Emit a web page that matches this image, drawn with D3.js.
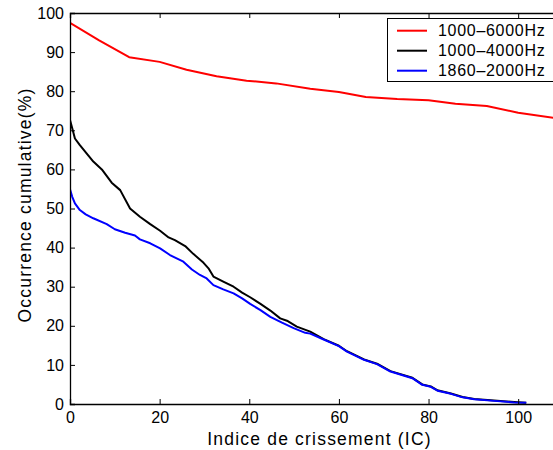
<!DOCTYPE html>
<html><head><meta charset="utf-8">
<script src="https://cdn.jsdelivr.net/npm/d3@7"></script>
<style>body{margin:0;background:#fff}svg{display:block}text{font-family:"Liberation Sans",Arial,sans-serif;fill:#000}</style>
</head><body><svg id="c" width="553" height="450"></svg>
<script>
const seriesNames = ["1000\u20136000Hz","1000\u20134000Hz","1860\u20132000Hz"];
const seriesColors = ["#ff0000","#000000","#0000ff"];
const xTicks = [0,20,40,60,80,100];
const yTicks = [0,10,20,30,40,50,60,70,80,90,100];
const redX = [0,6.5,13.2,20,26,32.7,39.4,46,53.6,60,66,73,80,86,93,100,108,110];
const redY = [97.5,93,88.7,87.5,85.5,83.8,82.7,82,80.6,79.8,78.5,78,77.7,76.8,76.2,74.5,73.2,72.9];
const blackX = [0,0.5,1.1,2.2,3.7,5.2,7.1,9.3,11.2,13.4,15.6,17.9,20.1,22,23.4,25.7,27.5,29.8,30.9,32,34.2,36.5,38.4,40.2,42.5,44.7,46.9,48.4,50.6,53.6,56.6,60,61.8,65.6,68.5,71.5,76.4,78.6,80.5,82,85,87.6,90.2,94.6,99.1,101.8];
const blackY = [72.6,70.5,67.9,66.2,64.1,62,60,56.6,54.7,50,47.9,46,44.3,42.6,41.9,40.4,38.4,36.1,34.7,32.6,31.3,30,28.5,27.3,25.6,23.9,21.9,21.3,19.8,18.5,16.6,14.9,13.5,11.4,10.3,8.4,6.7,5,4.5,3.5,2.7,1.8,1.3,0.9,0.5,0.3];
const blueX = [0,0.5,1.1,2.2,3.5,5.2,8.2,10,12.3,14.5,15.6,17.9,20.1,22.3,25.3,27.2,29,30.5,32,34.2,36.5,38.4,40.2,42.5,44.7,47.3,49.9,52.5,53.6,56.6,60,61.8,65.6,68.5,71.5,76.4,78.6,80.5,82,85,87.6,90.2,94.6,99.1,101.8];
const blueY = [54.9,53,51.3,49.6,48.5,47.5,46,44.7,43.8,43.1,42.1,41.1,39.8,38.1,36.4,34.4,33,32.1,30.4,29.3,28.3,27,25.6,24,22.3,20.8,19.4,18.2,18,16.5,14.8,13.4,11.3,10.2,8.3,6.6,4.9,4.4,3.4,2.6,1.7,1.2,0.8,0.4,0.3];

const svg = d3.select("#c");
const L=70, R=563, T=13, B=404;
const x = d3.scaleLinear().domain([0,110]).range([L,R]);
const y = d3.scaleLinear().domain([0,100]).range([B,T]);

svg.append("defs").append("clipPath").attr("id","clip").append("rect")
  .attr("x",L).attr("y",T).attr("width",R-L).attr("height",B-T);

const series = [
  {name:seriesNames[0], color:seriesColors[0], pts:d3.zip(redX,redY)},
  {name:seriesNames[1], color:seriesColors[1], pts:d3.zip(blackX,blackY)},
  {name:seriesNames[2], color:seriesColors[2], pts:d3.zip(blueX,blueY)}
];
const line = d3.line().x(d=>x(d[0])).y(d=>y(d[1]));
const g = svg.append("g").attr("clip-path","url(#clip)");
series.forEach(s=>{
  g.append("path").attr("d",line(s.pts)).attr("fill","none")
    .attr("stroke",s.color).attr("stroke-width",2).attr("stroke-linejoin","round");
});

// axes
const ax = svg.append("g");
const axBottom = ax.append("g").attr("transform",`translate(0,${B})`)
  .call(d3.axisBottom(x).tickValues(xTicks).tickSize(-5).tickPadding(8).tickFormat(d3.format("d")));
const axTop = ax.append("g").attr("transform",`translate(0,${T})`)
  .call(d3.axisTop(x).tickValues(xTicks).tickSize(-5).tickFormat(""));
const axLeft = ax.append("g").attr("transform",`translate(${L},0)`)
  .call(d3.axisLeft(y).tickValues(yTicks).tickSize(-5).tickPadding(6).tickFormat(d3.format("d")));
[axBottom,axTop,axLeft].forEach(a=>{
  a.select(".domain").attr("stroke","#000").attr("stroke-width",1.3);
  a.selectAll(".tick line").attr("stroke","#000").attr("stroke-width",1);
  a.selectAll("text").style("font-size","16px").style("font-family","Liberation Sans, Arial, sans-serif").attr("fill","#000");
});
axBottom.selectAll("text").attr("dy","0.75em").attr("y",7);

svg.append("text").attr("x",(L+R)/2 + 3).attr("y",444.5).attr("text-anchor","middle")
  .style("font-size","17.5px").style("letter-spacing","1.2px").text("Indice de crissement (IC)");
svg.append("text").attr("transform",`translate(31,205) rotate(-90)`).attr("text-anchor","middle")
  .style("font-size","17.5px").style("letter-spacing","1.2px").text("Occurrence cumulative(%)");

// legend
const lg = svg.append("g");
lg.append("rect").attr("x",387.5).attr("y",18.5).attr("width",166).attr("height",63)
  .attr("fill","#fff").attr("stroke","#000").attr("stroke-width",1);
series.forEach((s,i)=>{
  const yy = 30.7 + i*20;
  lg.append("line").attr("x1",397).attr("x2",427).attr("y1",yy).attr("y2",yy)
    .attr("stroke",s.color).attr("stroke-width",2);
  lg.append("text").attr("x",438).attr("y",yy).attr("dy","0.35em")
    .style("font-size","16px").style("letter-spacing","0.7px").text(s.name);
});
</script></body></html>
